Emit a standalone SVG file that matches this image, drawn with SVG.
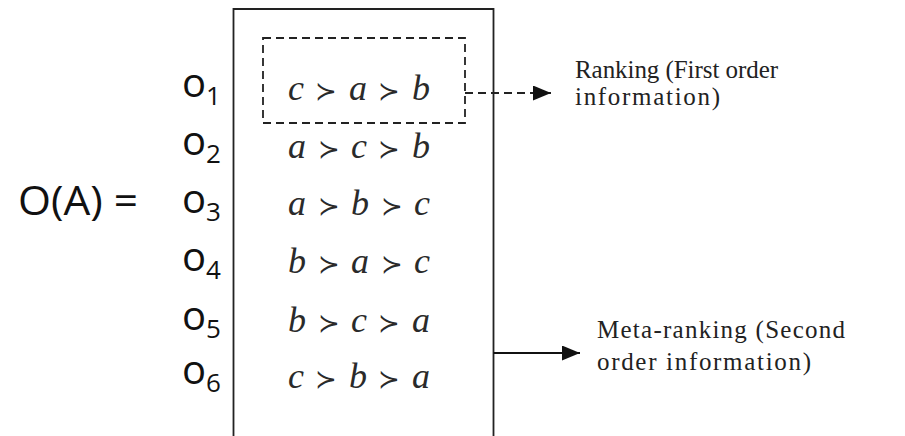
<svg xmlns="http://www.w3.org/2000/svg" width="905" height="436" viewBox="0 0 905 436">
  <defs>
    <marker id="head" viewBox="0 0 10 10" refX="10" refY="5" markerWidth="18" markerHeight="15" markerUnits="userSpaceOnUse" orient="auto" preserveAspectRatio="none">
      <path d="M0,0 L10,5 L0,10 Z" fill="#111"/>
    </marker>
  </defs>
  <style>
    .lbl { font-family: "Open Sans", "Liberation Sans", sans-serif; fill: #111; }
    .sub { font-family: "Open Sans", "Liberation Sans", sans-serif; font-size: 26px; fill: #111; }
    .rk { font-family: "Liberation Serif", "DejaVu Serif", serif; font-style: italic; font-size: 36px; fill: #2a2a2a; }
    .rel { font-family: "DejaVu Serif", serif; font-style: normal; font-size: 26px; }
    .note { font-family: "Liberation Serif", "DejaVu Serif", serif; font-size: 25px; fill: #222; }
    .frame { fill: none; stroke: #222; stroke-width: 1.8; }
    .dash { fill: none; stroke: #222; stroke-width: 1.8; stroke-dasharray: 8 5; }
    .conn { fill: none; stroke: #111; stroke-width: 1.8; }
  </style>
  <rect width="905" height="436" fill="#fff"/>

  <!-- left-hand labels -->
  <g id="label-OA">
    <text class="lbl" x="18" y="215" font-size="41" textLength="120" lengthAdjust="spacingAndGlyphs">O(A) =</text>
  </g>
  <g id="outcome-labels">
    <text class="lbl" x="182" y="97" font-size="40">o<tspan class="sub" dy="8">1</tspan></text>
    <text class="lbl" x="182" y="155" font-size="40">o<tspan class="sub" dy="8">2</tspan></text>
    <text class="lbl" x="182" y="213" font-size="40">o<tspan class="sub" dy="8">3</tspan></text>
    <text class="lbl" x="182" y="271" font-size="40">o<tspan class="sub" dy="8">4</tspan></text>
    <text class="lbl" x="182" y="330" font-size="40">o<tspan class="sub" dy="8">5</tspan></text>
    <text class="lbl" x="182" y="384" font-size="40">o<tspan class="sub" dy="8">6</tspan></text>
  </g>

  <!-- open frame holding the rankings -->
  <g id="frame">
    <path class="frame" d="M233.5,436 L233.5,9 L493.5,9 L493.5,436"/>
  </g>

  <!-- rankings -->
  <g id="rankings">
    <text class="rk" x="288" y="100" textLength="142" lengthAdjust="spacing">c <tspan class="rel">≻</tspan> a <tspan class="rel">≻</tspan> b</text>
    <text class="rk" x="288" y="158" textLength="142" lengthAdjust="spacing">a <tspan class="rel">≻</tspan> c <tspan class="rel">≻</tspan> b</text>
    <text class="rk" x="288" y="215" textLength="142" lengthAdjust="spacing">a <tspan class="rel">≻</tspan> b <tspan class="rel">≻</tspan> c</text>
    <text class="rk" x="288" y="273" textLength="142" lengthAdjust="spacing">b <tspan class="rel">≻</tspan> a <tspan class="rel">≻</tspan> c</text>
    <text class="rk" x="288" y="332" textLength="142" lengthAdjust="spacing">b <tspan class="rel">≻</tspan> c <tspan class="rel">≻</tspan> a</text>
    <text class="rk" x="288" y="388" textLength="142" lengthAdjust="spacing">c <tspan class="rel">≻</tspan> b <tspan class="rel">≻</tspan> a</text>
  </g>

  <!-- highlight around the first ranking -->
  <g id="first-ranking-box">
    <rect class="dash" x="263" y="38" width="202" height="85"/>
  </g>

  <!-- connectors -->
  <g id="connectors">
    <path class="dash" d="M465,93 L551,93" marker-end="url(#head)"/>
    <path class="conn" d="M493.5,353 L580,353" marker-end="url(#head)"/>
  </g>

  <!-- notes -->
  <g id="note-ranking">
    <text class="note" x="575" y="78" textLength="203" lengthAdjust="spacing">Ranking (First order</text>
    <text class="note" x="575" y="105" textLength="145" lengthAdjust="spacing">information)</text>
  </g>
  <g id="note-meta">
    <text class="note" x="597" y="338" font-size="26" textLength="248" lengthAdjust="spacing">Meta-ranking (Second</text>
    <text class="note" x="597" y="370" font-size="26" textLength="214" lengthAdjust="spacing">order information)</text>
  </g>
</svg>
